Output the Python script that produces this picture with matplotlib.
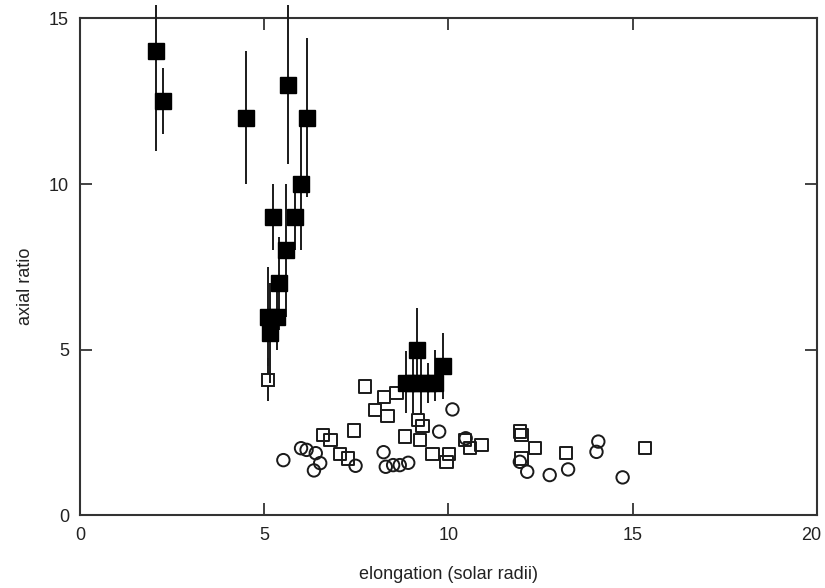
import matplotlib
matplotlib.use("Agg")
import matplotlib.pyplot as plt
import matplotlib.transforms as mtransforms

plt.rcParams['font.family'] = ['Liberation Sans', 'DejaVu Sans']

# Filled squares: measurements with vertical error bars
filled_x = [2.06, 2.25, 4.5, 5.65, 6.15, 6.0, 5.25, 5.83, 5.6, 5.4,
            5.1, 5.35, 5.15, 9.15, 9.85, 8.85, 9.05, 9.25, 9.45, 9.65]
filled_y = [14.0, 12.5, 12.0, 13.0, 12.0, 10.0, 9.0, 9.0, 8.0, 7.0,
            6.0, 6.0, 5.5, 5.0, 4.5, 4.0, 4.0, 4.0, 4.0, 4.0]
filled_err_lo = [3.0, 1.0, 2.0, 2.4, 2.4, 2.0, 1.0, 1.0, 2.0, 1.4,
                 1.5, 1.0, 1.5, 1.25, 1.0, 0.9, 0.9, 0.95, 0.6, 0.55]
filled_err_hi = [1.4, 1.0, 2.0, 2.4, 2.4, 2.0, 1.0, 1.0, 2.0, 1.4,
                 1.5, 1.0, 1.5, 1.25, 1.0, 0.95, 0.9, 0.95, 0.6, 1.0]

# Open square with its error bar
open_err_x = [5.1]
open_err_y = [4.1]
open_err = [0.65]

# Open squares
sq_x = [7.73, 8.25, 8.59, 8.01, 8.35, 7.44, 6.59, 6.80, 7.06, 7.28,
        8.82, 9.18, 9.30, 9.23, 9.57, 9.95, 10.02, 10.45, 10.58, 10.9,
        11.94, 11.98, 12.35, 11.98, 13.2, 15.33]
sq_y = [3.89, 3.58, 3.69, 3.18, 3.0, 2.56, 2.43, 2.28, 1.86, 1.72,
        2.38, 2.88, 2.70, 2.28, 1.86, 1.62, 1.86, 2.28, 2.03, 2.13,
        2.53, 2.43, 2.03, 1.72, 1.88, 2.03]

# Open circles
circ_x = [5.52, 6.0, 6.15, 6.40, 6.52, 6.35, 7.48, 8.24, 8.30, 8.50,
          8.68, 8.91, 9.75, 10.11, 10.47, 11.94, 12.14, 12.75, 13.25,
          14.07, 14.02, 14.73]
circ_y = [1.67, 2.03, 1.98, 1.88, 1.58, 1.36, 1.50, 1.91, 1.47, 1.52,
          1.52, 1.59, 2.53, 3.20, 2.33, 1.62, 1.32, 1.22, 1.39,
          2.23, 1.92, 1.15]

x_ticks = [0, 5, 10, 15, 20]
y_ticks = [0, 5, 10, 15]

fig = plt.figure(figsize=(8.25, 5.88), dpi=100)
ax = fig.add_axes([0.097, 0.1233, 0.893, 0.8456])

ax.scatter(circ_x, circ_y, s=80, marker='o', facecolors='none',
           edgecolors='#1a1a1a', linewidths=1.4, zorder=2)
ax.scatter(sq_x, sq_y, s=80, marker='s', facecolors='none',
           edgecolors='#1a1a1a', linewidths=1.4, zorder=2)

ax.errorbar(open_err_x, open_err_y, yerr=open_err, fmt='s', ms=9,
            mfc='white', mec='#1a1a1a', mew=1.4, ecolor='#1a1a1a',
            elinewidth=1.4, capsize=0, zorder=3, clip_on=False)

ax.errorbar(filled_x, filled_y, yerr=[filled_err_lo, filled_err_hi], fmt='s',
            ms=11, color='black', ecolor='#1a1a1a', elinewidth=1.4,
            capsize=0, zorder=4, clip_on=False)

ax.set_xlim(0, 20)
ax.set_ylim(0, 15)
ax.set_xticks(x_ticks)
ax.set_yticks(y_ticks)
ax.tick_params(direction='in', length=8.5, width=1.2, top=True, right=True,
               labelsize=13, colors='#222222', pad=8)
for sp in ax.spines.values():
    sp.set_linewidth(1.5)
    sp.set_color('#333333')

# keep the rightmost x tick label inside the canvas
fig.canvas.draw()
last = ax.get_xticklabels()[-1]
last.set_transform(last.get_transform() +
                   mtransforms.ScaledTranslation(-6 / 100, 0, fig.dpi_scale_trans))

ax.set_xlabel('elongation (solar radii)', fontsize=13, color='#222222', labelpad=16)
ax.set_ylabel('axial ratio', fontsize=13, color='#222222')
ax.yaxis.set_label_coords(-0.062, 0.46)

fig.savefig('out.png', dpi=100)
